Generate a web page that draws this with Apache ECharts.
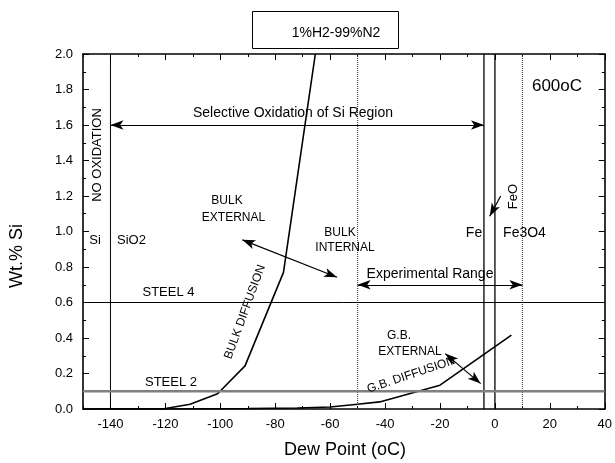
<!DOCTYPE html>
<html><head><meta charset="utf-8">
<script src="https://cdn.jsdelivr.net/npm/echarts@6/dist/echarts.min.js"></script>
<style>html,body{margin:0;padding:0;background:#fff}#c{width:615px;height:463px}</style>
</head><body><div id="c"></div>
<script>
// ---- data ----
const xMajorTicks = [-140, -120, -100, -80, -60, -40, -20, 0, 20, 40];
const xMinorTicks = [-150, -130, -110, -90, -70, -50, -30, -10, 10, 30];
const bulkX = [-150, -121, -111, -101, -91, -77, -65.4];
const bulkY = [0, 0, 0.027, 0.086, 0.243, 0.77, 2.0];
const gbX = [-150, -120, -90, -72, -60, -50, -42, -20, 6];
const gbY = [0, 0, 0.002, 0.006, 0.011, 0.027, 0.04, 0.134, 0.416];
const vSolidX = [-140, -4, 0];
const vDottedX = [-50, 10];
const steel4Y = 0.6;
const steel2Y = 0.1;
const arrowsBoth = [
  [[-140, 1.6], [-4, 1.6]],
  [[-50, 0.7], [10, 0.7]],
  [[-92, 0.953], [-57.5, 0.742]],
  [[-18.1, 0.312], [-5.2, 0.143]]
];
const arrowFeO = [[2.1, 1.2], [-1.9, 1.086]];

const FONT = 'Liberation Sans, Arial, sans-serif';
const chart = echarts.init(document.getElementById('c'), null, {renderer: 'canvas'});

const pair = (xs, ys) => xs.map((x, i) => [x, ys[i]]);
const series = [];
const blackLine = {color: '#000', width: 1.6};
series.push({type: 'line', data: pair(bulkX, bulkY), symbol: 'none', lineStyle: blackLine, silent: true});
series.push({type: 'line', data: pair(gbX, gbY), symbol: 'none', lineStyle: blackLine, silent: true});
vSolidX.forEach((v, i) => series.push({type: 'line', data: [[v, 0], [v, 2]], symbol: 'none', lineStyle: {color: '#000', width: i === 0 ? 1 : 1.3}, silent: true}));
vDottedX.forEach(v => series.push({type: 'line', data: [[v, 0], [v, 2]], symbol: 'none', lineStyle: {color: '#333', width: 1, type: [1, 1]}, silent: true}));
series.push({type: 'line', data: [[-150, steel4Y], [40, steel4Y]], symbol: 'none', lineStyle: {color: '#000', width: 1}, silent: true});
series.push({type: 'line', data: [[-150, steel2Y], [40, steel2Y]], symbol: 'none', lineStyle: {color: '#808080', width: 2.5}, silent: true});
series.push({
  type: 'line', data: [], silent: true,
  markLine: {
    silent: true, animation: false, symbol: ['arrow', 'arrow'], symbolSize: [7, 13],
    label: {show: false}, lineStyle: {color: '#000', width: 1.2, type: 'solid'},
    emphasis: {disabled: true},
    data: arrowsBoth.map(a => [{coord: a[0]}, {coord: a[1]}])
  }
});
series.push({
  type: 'line', data: [], silent: true,
  markLine: {
    silent: true, animation: false, symbol: ['none', 'arrow'], symbolSize: [7, 13],
    label: {show: false}, lineStyle: {color: '#000', width: 1.2, type: 'solid'},
    emphasis: {disabled: true},
    data: [[{coord: arrowFeO[0]}, {coord: arrowFeO[1]}]]
  }
});

const axisLineStyle = {onZero: false, lineStyle: {color: '#000', width: 1.6}};
const xBase = {type: 'value', min: -150, max: 40, interval: 10, splitLine: {show: false}};
const xAxes = [
  Object.assign({}, xBase, {position: 'bottom', axisLine: axisLineStyle,
    axisTick: {inside: true, length: 6, customValues: xMajorTicks, lineStyle: {color: '#000', width: 1}},
    axisLabel: {customValues: xMajorTicks, color: '#000', fontSize: 13, fontFamily: FONT, margin: 9}}),
  Object.assign({}, xBase, {position: 'bottom', axisLine: {show: false, onZero: false},
    axisTick: {inside: true, length: 3, customValues: xMinorTicks, lineStyle: {color: '#000', width: 1}},
    axisLabel: {show: false}}),
  Object.assign({}, xBase, {position: 'top', axisLine: axisLineStyle,
    axisTick: {inside: true, length: 6, customValues: xMajorTicks, lineStyle: {color: '#000', width: 1}},
    axisLabel: {show: false}}),
  Object.assign({}, xBase, {position: 'top', axisLine: {show: false, onZero: false},
    axisTick: {inside: true, length: 3, customValues: xMinorTicks, lineStyle: {color: '#000', width: 1}},
    axisLabel: {show: false}})
];
const yBase = {type: 'value', min: 0, max: 2, interval: 0.2, splitLine: {show: false},
  minorTick: {show: true, splitNumber: 2, length: 3, lineStyle: {color: '#000', width: 1}}, minorSplitLine: {show: false}};
const yAxes = [
  Object.assign({}, yBase, {position: 'left', axisLine: axisLineStyle,
    axisTick: {inside: true, length: 6, lineStyle: {color: '#000', width: 1}},
    axisLabel: {color: '#000', fontSize: 13, fontFamily: FONT, margin: 10, formatter: v => v.toFixed(1)}}),
  Object.assign({}, yBase, {position: 'right', axisLine: axisLineStyle,
    axisTick: {inside: true, length: 6, lineStyle: {color: '#000', width: 1}},
    axisLabel: {show: false}})
];

function txt(text, x, y, size, rot) {
  return {type: 'text', x: x, y: y, rotation: rot ? rot * Math.PI / 180 : 0, silent: true, z: 100,
    style: {text: text, fill: '#000', fontSize: size, fontFamily: FONT, textAlign: 'center', textVerticalAlign: 'middle'}};
}
const graphic = [
  {type: 'rect', shape: {x: 252.5, y: 11.5, width: 146, height: 37}, style: {fill: '#fff', stroke: '#000', lineWidth: 1}, z: 99, silent: true},
  txt('1%H2-99%N2', 336, 33, 14),
  txt('NO OXIDATION', 97, 155, 13, 90),
  txt('Selective Oxidation of Si Region', 293, 113, 14),
  txt('600oC', 557, 86, 17),
  txt('BULK', 227, 201, 12),
  txt('EXTERNAL', 233.5, 218, 12),
  txt('Si', 95, 240, 13),
  txt('SiO2', 131.5, 240, 13),
  txt('STEEL 4', 168.5, 292, 13),
  txt('STEEL 2', 171, 382, 13),
  txt('BULK DIFFUSION', 245, 312, 12, 70),
  txt('BULK', 340, 233, 12),
  txt('INTERNAL', 345, 248, 12),
  txt('Fe', 474, 233, 14),
  txt('Fe3O4', 524.5, 233, 14),
  txt('FeO', 513, 196.5, 13, 90),
  txt('Experimental Range', 430, 274, 14),
  txt('G.B.', 399, 336, 12),
  txt('EXTERNAL', 410, 352, 12),
  txt('G.B. DIFFUSION', 411, 375, 12, 18.5),
  txt('Wt.% Si', 17, 256, 18, 90),
  txt('Dew Point (oC)', 345, 450, 18)
];

chart.setOption({
  animation: false,
  backgroundColor: '#fff',
  grid: {left: 83, right: 9.5, top: 54, bottom: 54, containLabel: false},
  xAxis: xAxes,
  yAxis: yAxes,
  series: series,
  graphic: graphic
});
</script>
</body></html>
